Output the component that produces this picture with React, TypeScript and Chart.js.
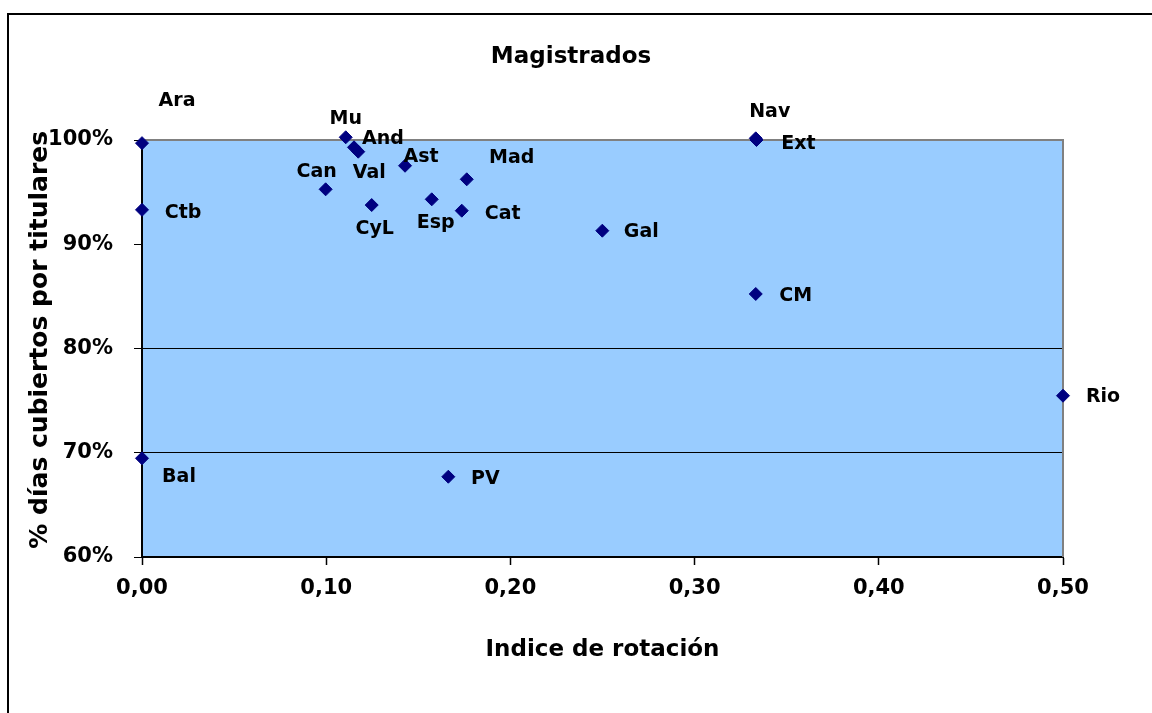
import React, { useEffect, useRef } from "react";
import { Chart, registerables } from "chart.js";

Chart.register(...registerables);

// ---- Data ----
const regions = ["Ara", "Ctb", "Bal", "Mu", "And", "Val", "Ast", "Can", "CyL", "Esp", "Cat", "Mad", "Gal", "Nav", "Ext", "CM", "Rio", "PV"];
const rotationIndex = [0, 0, 0, 0.1106, 0.1151, 0.1174, 0.1428, 0.0997, 0.1247, 0.1573, 0.1736, 0.1763, 0.2499, 0.3332, 0.3336, 0.3332, 0.5, 0.1663];
const coverage = [0.997, 0.933, 0.6947, 1.0026, 0.993, 0.9888, 0.9753, 0.9527, 0.9376, 0.9431, 0.9322, 0.9623, 0.913, 1.0016, 1.0, 0.8523, 0.7547, 0.677];

// label placement relative to each marker (layout, not data)
const labelOffsets: [number, number][] = [
  [35, -42], [41, 3], [37, 19], [0, -18], [29, -8], [11, 21], [16, -9], [-9, -17], [3, 24],
  [4, 24], [41, 3], [45, -21], [39, 1], [14, -26], [42, 4], [40, 2], [40, 1], [37, 2],
];

const xTickValues = [0, 0.1, 0.2, 0.3, 0.4, 0.5];
const yTickValues = [0.6, 0.7, 0.8, 0.9, 1.0];
const yGridShown = [0.7, 0.8];

const FONT = '"DejaVu Sans", "Liberation Sans", sans-serif';

const plotBgPlugin = {
  id: "plotBg",
  beforeDraw(chart: any) {
    const { ctx, chartArea: a } = chart;
    ctx.save();
    ctx.fillStyle = "#99CCFF";
    ctx.fillRect(a.left, a.top, a.right - a.left, a.bottom - a.top);
    ctx.restore();
  },
  beforeDatasetsDraw(chart: any) {
    const { ctx, chartArea: a } = chart;
    ctx.save();
    ctx.strokeStyle = "#808080";
    ctx.lineWidth = 2;
    ctx.beginPath();
    ctx.moveTo(a.left, a.top);
    ctx.lineTo(a.right, a.top);
    ctx.lineTo(a.right, a.bottom);
    ctx.stroke();
    ctx.restore();
  },
};

const labelPlugin = {
  id: "pointLabels",
  afterDatasetsDraw(chart: any) {
    const { ctx } = chart;
    const meta = chart.getDatasetMeta(0);
    ctx.save();
    ctx.font = `bold 19px ${FONT}`;
    ctx.fillStyle = "#000";
    ctx.textAlign = "center";
    ctx.textBaseline = "middle";
    meta.data.forEach((pt: any, i: number) => {
      const [dx, dy] = labelOffsets[i];
      ctx.fillText(regions[i], pt.x + dx, pt.y + dy);
    });
    ctx.restore();
  },
};

export default function App() {
  const ref = useRef<HTMLCanvasElement | null>(null);

  useEffect(() => {
    if (!ref.current) return;
    const chart = new Chart(ref.current, {
      type: "scatter",
      data: {
        datasets: [
          {
            label: "Magistrados",
            data: rotationIndex.map((x, i) => ({ x, y: coverage[i] })),
            pointStyle: "rectRot",
            pointRadius: 6.5,
            pointHoverRadius: 6.5,
            backgroundColor: "#000080",
            borderColor: "#000080",
            borderWidth: 1,
            clip: false as any,
          },
        ],
      },
      options: {
        animation: false,
        responsive: false,
        devicePixelRatio: 1,
        events: [],
        layout: { padding: { left: 0, right: 19, top: 0, bottom: 0 } },
        plugins: {
          legend: { display: false },
          tooltip: { enabled: false },
          title: {
            display: true,
            text: "Magistrados",
            color: "#000",
            font: { family: FONT, size: 23, weight: "bold" },
            padding: { top: 28, bottom: 69.4 },
          },
        },
        scales: {
          x: {
            type: "linear",
            min: 0,
            max: 0.5,
            afterBuildTicks: (s: any) => {
              s.ticks = xTickValues.map((v) => ({ value: v }));
            },
            afterFit: (s: any) => {
              s.height = 156;
            },
            grid: {
              display: true,
              drawOnChartArea: false,
              drawTicks: true,
              tickLength: 8,
              tickColor: "#000",
              tickWidth: 1.5,
            },
            border: { display: true, color: "#000", width: 2 },
            ticks: {
              color: "#000",
              padding: 11,
              font: { family: FONT, size: 21, weight: "bold" },
              maxRotation: 0,
              callback: (v: any) => Number(v).toFixed(2).replace(".", ","),
            },
            title: {
              display: true,
              text: "Indice de rotación",
              color: "#000",
              font: { family: FONT, size: 23, weight: "bold" },
              padding: { top: 0, bottom: 49 },
            },
          },
          y: {
            type: "linear",
            min: 0.6,
            max: 1.0,
            afterBuildTicks: (s: any) => {
              s.ticks = yTickValues.map((v) => ({ value: v }));
            },
            afterFit: (s: any) => {
              s.width = 133;
            },
            grid: {
              display: true,
              drawTicks: true,
              tickLength: 8,
              tickColor: "#000",
              lineWidth: 1,
              color: (c: any) =>
                c.tick && yGridShown.some((g) => Math.abs(g - c.tick.value) < 1e-6) ? "#000" : "rgba(0,0,0,0)",
            },
            border: { display: true, color: "#000", width: 2 },
            ticks: {
              color: "#000",
              padding: 21,
              font: { family: FONT, size: 21, weight: "bold" },
              callback: (v: any) => Math.round(Number(v) * 100) + "%",
            },
            title: {
              display: true,
              text: "  % días cubiertos por titulares",
              color: "#000",
              font: { family: FONT, size: 25, weight: "bold" },
              padding: { top: 16, bottom: 0 },
            },
          },
          yRight: {
            type: "linear",
            position: "right",
            display: true,
            afterFit: (s: any) => {
              s.width = 70;
            },
            grid: { display: false, drawTicks: false },
            border: { display: false },
            ticks: { display: false },
          },
        },
      },
      plugins: [plotBgPlugin, labelPlugin],
    } as any);
    return () => chart.destroy();
  }, []);

  return (
    <div
      style={{
        position: "fixed",
        left: 7,
        top: 13,
        width: 1145,
        height: 700,
        borderLeft: "2px solid #000",
        borderTop: "2px solid #000",
        boxSizing: "border-box",
        background: "#fff",
      }}
    >
      <canvas ref={ref} width={1143} height={698} style={{ display: "block" }} />
    </div>
  );
}
